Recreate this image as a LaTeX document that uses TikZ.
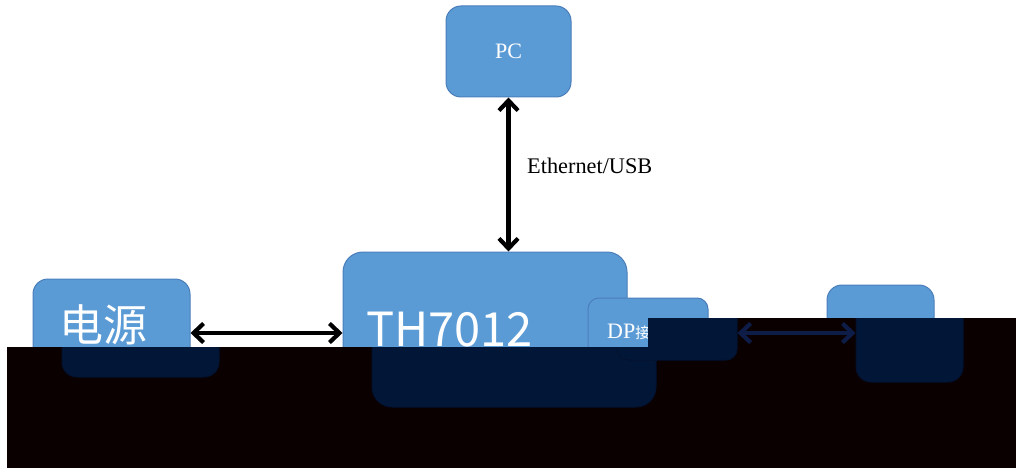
\documentclass[tikz,border=0pt]{standalone}
\usepackage{fontspec}
\setmainfont{Liberation Serif}
\newfontfamily\cjk{Noto Sans CJK SC}
\usetikzlibrary{arrows.meta}
\definecolor{mainfill}{HTML}{5B9BD5}
\definecolor{mainline}{HTML}{4A7EBB}
\definecolor{mainarrow}{HTML}{000000}
\definecolor{darkfill}{HTML}{021738}
\definecolor{darkline}{HTML}{021230}
\definecolor{darkarrow}{HTML}{0E1D48}
\definecolor{blackout}{HTML}{0A0000}
\tikzset{
  box/.style={draw=boxline, fill=boxfill, line width=1pt, inner sep=0pt, rounded corners=#1},
  box/.default=15pt,
  arr/.style={draw=arrowcol, line width=4.2pt,
    {Straight Barb[length=10pt,width=19pt]}-{Straight Barb[length=10pt,width=19pt]}},
  wtext/.style={text=white, inner sep=0pt},
}
\newcommand{\diagramshapes}{%
  \node[box, minimum width=125pt, minimum height=91pt] (PC) at (508.5,51.5) {};
  \node[box=20pt, minimum width=284pt, minimum height=155pt] (TH) at (485,329.5) {};
  \node[box=11pt, minimum width=120pt, minimum height=62pt] (DP) at (648,329) {};
  \node[box, minimum width=157pt, minimum height=98pt] (PS) at (111.5,328) {};
  \node[box, minimum width=107pt, minimum height=97pt] (RB) at (880.5,333.5) {};
  \coordinate (lvl) at (0,333);
  \draw[arr] (PC.south) -- (PC.south |- TH.north);
  \draw[arr] (PS.east |- lvl) -- (TH.west |- lvl);
  \draw[arr] (DP.east |- lvl) -- (RB.west |- lvl);
}
\begin{document}
\begin{tikzpicture}[x=1pt,y=-1pt]
  \useasboundingbox (0,0) rectangle (1016,468);
  \fill[white] (0,0) rectangle (1016,468);
  \begin{scope}
    \colorlet{boxfill}{mainfill}\colorlet{boxline}{mainline}\colorlet{arrowcol}{mainarrow}
    \diagramshapes
  \end{scope}
  \node[wtext, font=\fontsize{22}{22}\selectfont] (pct) at (PC.center) {PC};
  \node[wtext, anchor=base west, font=\cjk\fontsize{47}{47}\selectfont] (tht) at (366,346) {TH7012};
  \node[wtext, anchor=base west, font=\fontsize{22}{22}\selectfont] (dpt) at (607,338) {DP\cjk\fontsize{15}{15}\selectfont 接口};
  \node[wtext, font=\cjk\fontsize{44}{44}\selectfont] (pst) at (103,325) {电源};
  \node[anchor=base west, inner sep=0pt, font=\fontsize{22.3}{22}\selectfont] (eth) at (527,173) {Ethernet/USB};
  % corrupted lower part of the picture
  \fill[blackout] (7,347) rectangle (1016,468);
  \fill[blackout] (648,318) rectangle (1016,347);
  \begin{scope}
    \clip (7,347) rectangle (1016,468) (648,318) rectangle (1016,347);
    \begin{scope}[xshift=29pt, name prefix=d-]
      \colorlet{boxfill}{darkfill}\colorlet{boxline}{darkline}\colorlet{arrowcol}{darkarrow}
      \diagramshapes
    \end{scope}
  \end{scope}
\end{tikzpicture}
\end{document}
